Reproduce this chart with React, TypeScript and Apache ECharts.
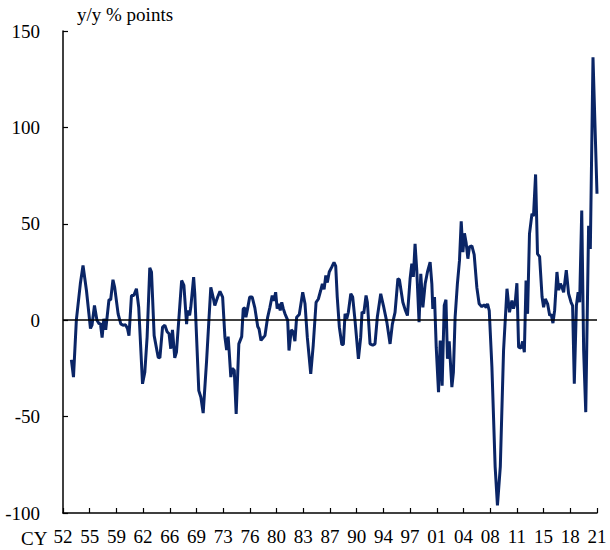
import React, { useEffect, useRef } from "react";
import * as echarts from "echarts";

// x: quarters since 1952Q1, y: y/y % points
const quarterPos: number[] = [
  4.4, 5.5, 7.0, 9.1, 10.5, 12.3, 14.4, 15.2, 16.5, 17.8, 19.0, 19.6, 20.5, 21.4, 22.4, 24.1, 25.0, 26.2, 27.1, 28.9,
  30.3, 31.5, 32.8, 33.8, 34.6, 35.9, 37.1, 38.5, 39.7, 41.7, 42.9, 44.1, 45.5, 46.4, 47.8, 49.9, 50.8, 52.2, 53.4, 54.6,
  55.6, 56.5, 57.4, 58.6, 59.5, 60.7, 62.2, 63.4, 64.8, 65.3, 66.4, 67.0, 68.5, 69.1, 71.2, 72.3, 73.5, 75.3, 76.5, 77.5,
  78.7, 79.6, 81.1, 82.3, 83.7, 84.9, 85.8, 86.6, 87.1, 88.0, 88.7, 89.8, 90.8, 92.2, 93.7, 94.5, 95.4, 95.9, 96.8, 97.9,
  99.2, 100.6, 102.1, 102.8, 103.8, 105.0, 105.9, 107.3, 108.5, 109.7, 110.6, 111.5, 112.3, 113.2, 113.9, 114.7, 115.5, 116.4, 117.8, 118.5,
  119.7, 120.7, 121.6, 122.5, 123.9, 125.7, 126.9, 128.1, 129.9, 131.2, 132.7, 133.9, 135.1, 136.0, 136.9, 137.8, 138.6, 139.6, 140.9, 142.1,
  143.0, 143.8, 144.9, 146.2, 147.0, 147.9, 148.8, 149.6, 150.9, 151.9, 153.1, 154.9, 156.1, 156.8, 157.7, 158.9, 159.6, 161.0, 162.4, 163.6,
  164.8, 166.6, 168.0, 169.8, 171.5, 172.7, 174.1, 175.6, 176.4, 178.2, 179.4, 180.6, 182.0, 182.9, 183.7, 184.6, 185.5, 186.7, 187.6, 188.7,
  189.9, 191.1, 192.5, 193.4, 193.9, 194.8, 195.7, 196.9, 197.8, 198.8, 199.9, 200.8, 201.6, 202.5, 203.9, 204.7, 205.6, 206.8, 207.9, 208.8,
  209.7, 210.5, 211.4, 212.3, 213.1, 214.4, 215.6, 217.0, 218.2, 219.6, 220.8, 221.9, 222.6, 223.5, 224.9, 226.6, 227.8, 229.3, 231.0, 232.8,
  234.1, 235.4, 236.2, 237.1, 238.0, 238.9, 240.1, 241.0, 241.9, 242.8, 243.6, 244.6, 245.9, 246.7, 247.8, 248.8, 249.9, 251.2, 252.0, 252.9,
  254.1, 255.2, 256.0, 256.9, 257.8, 259.0, 259.9, 260.8, 261.7, 262.5, 263.9, 265.1, 266.4, 267.2, 268.1, 269.2, 270.1, 270.9, 272.0, 273.0,
  274.1, 275.6, 276.5, 277.9, 280.0,
];

const yoyValues: number[] = [
  -20.5, -29.5, 0, 19, 28.4, 15.4, -4.3, -2.6, 7.6, 0, -2, -1.5, -9, 0.7, -5, 10.6, 10.6, 21, 17, 3.3,
  -1.9, -2.6, -2.4, -4.3, -8, 12.8, 12.8, 16.3, 6.7, -33, -27, -8.8, 27.2, 25, -8, -19.2, -19.5, -3.6, -2.6, -6,
  -7, -14.8, -5, -19.5, -16.5, 0, 20.6, 18, -2, 5, 2.5, 6.7, 22.3, 13.7, -36.5, -40, -48.2, -21, 0, 17,
  12, 7.6, 12, 15, 12, -8.8, -15.5, -8.5, -15.7, -29.5, -25, -26, -48.6, -12.3, -8.5, 5.9, 6.4, 1.5, 6, 12,
  12, 6.4, -3.3, -4.6, -10.5, -9, -8, 1.5, 6.7, 12.8, 10, 14.5, 6, 8.5, 5, 9.3, 6, 3.3, 0, -15.7,
  -5, -6, -10.9, 1.5, 3, 14.5, 8.5, -8.8, -27.8, -13, 9.3, 11, 15.4, 18.9, 16, 23.2, 19.5, 25, 27.5, 30,
  28, 12, -3.6, -12.6, -12.6, 3.3, 0.8, 4, 13.7, 12, 0, -20, -8.8, 4.3, 3.5, 12.8, 9.3, -12.3, -13, -12.3,
  1.5, 13.7, 7.6, -1, -12.3, -2, 4.1, 21.5, 21, 9.3, 5.5, 2.4, 21.5, 29.3, 22.5, 39.6, 25.8, -1, 24, 6.7,
  18.9, 25, 30.1, 18.9, 5.9, 12, -14, -37.3, -10.5, -34, 7.6, 10.6, -20, -11, -34.7, -27, 1.5, 18.9, 31, 51.3,
  35.3, 45.1, 40, 31.9, 38, 38.6, 34, 17, 8.5, 7, 8, 6.6, 8.5, 5, -24.4, -76.2, -96, -76, -15.7, 16.3,
  4.1, 10.2, 6, 9, 19.2, -14, -14.5, -11, -16.6, 20.6, 3.3, 44.8, 55.2, 54, 75.6, 34.4, 33, 12, 6.7, 11,
  8.5, 2.4, 3, -1.5, 5.2, 25, 15.6, 18.9, 17, 14.5, 26, 13.8, 9.3, 7.6, -33, 7.6, 14.5, 9.3, 56.9, -15.7,
  -47.7, 49, 37, 136.4, 65.6,
];

const xTickLabels: string[] = [
  "52", "55", "59", "62", "66", "69", "73", "76", "80", "83", "87",
  "90", "94", "97", "01", "04", "08", "11", "15", "18", "21",
];
const quartersPerTick = 14;
const yMin = -100;
const yMax = 150;
const yStep = 50;

const unitText = "y/y % points";
const prefixText = "CY";

const FONT = "Liberation Serif";

export default function App() {
  const ref = useRef<HTMLDivElement>(null);
  useEffect(() => {
    if (!ref.current) return;
    const chart = echarts.init(ref.current, null, { renderer: "svg" });
    const data = quarterPos.map((q, i) => [q, yoyValues[i]]);
    chart.setOption({
      animation: false,
      backgroundColor: "#ffffff",
      grid: { left: 63, right: 13, top: 31, bottom: 37, containLabel: false },
      xAxis: {
        type: "value",
        min: 0,
        max: quartersPerTick * (xTickLabels.length - 1),
        interval: quartersPerTick,
        axisLine: { onZero: false, lineStyle: { color: "#000", width: 1.5 } },
        axisTick: { show: true, inside: true, length: 5, lineStyle: { color: "#000", width: 1.2 } },
        splitLine: { show: false },
        axisLabel: {
          color: "#000",
          fontFamily: FONT,
          fontSize: 19,
          margin: 14,
          showMinLabel: true,
          showMaxLabel: true,
          formatter: (v: number) => xTickLabels[Math.round(v / quartersPerTick)] ?? "",
        },
      },
      yAxis: {
        type: "value",
        min: yMin,
        max: yMax,
        interval: yStep,
        axisLine: { show: true, lineStyle: { color: "#000", width: 1.5 } },
        axisTick: { show: true, inside: true, length: 5, lineStyle: { color: "#000", width: 1.2 } },
        splitLine: { show: false },
        axisLabel: { color: "#000", fontFamily: FONT, fontSize: 19, margin: 23 },
      },
      graphic: [
        {
          type: "text",
          left: 77,
          top: 5,
          style: { text: unitText, fill: "#000", fontFamily: FONT, fontSize: 19 },
        },
        {
          type: "text",
          left: 21,
          top: 529,
          style: { text: prefixText, fill: "#000", fontFamily: FONT, fontSize: 19 },
        },
      ],
      series: [
        {
          type: "line",
          data,
          symbol: "none",
          lineStyle: { color: "#0a2566", width: 3 },
          markLine: {
            silent: true,
            symbol: "none",
            label: { show: false },
            lineStyle: { color: "#000", width: 1.5, type: "solid" },
            data: [{ yAxis: 0 }],
          },
        },
      ],
    });
    return () => chart.dispose();
  }, []);
  return (
    <div
      ref={ref}
      style={{ position: "absolute", left: 0, top: 0, width: 610, height: 550 }}
    />
  );
}
